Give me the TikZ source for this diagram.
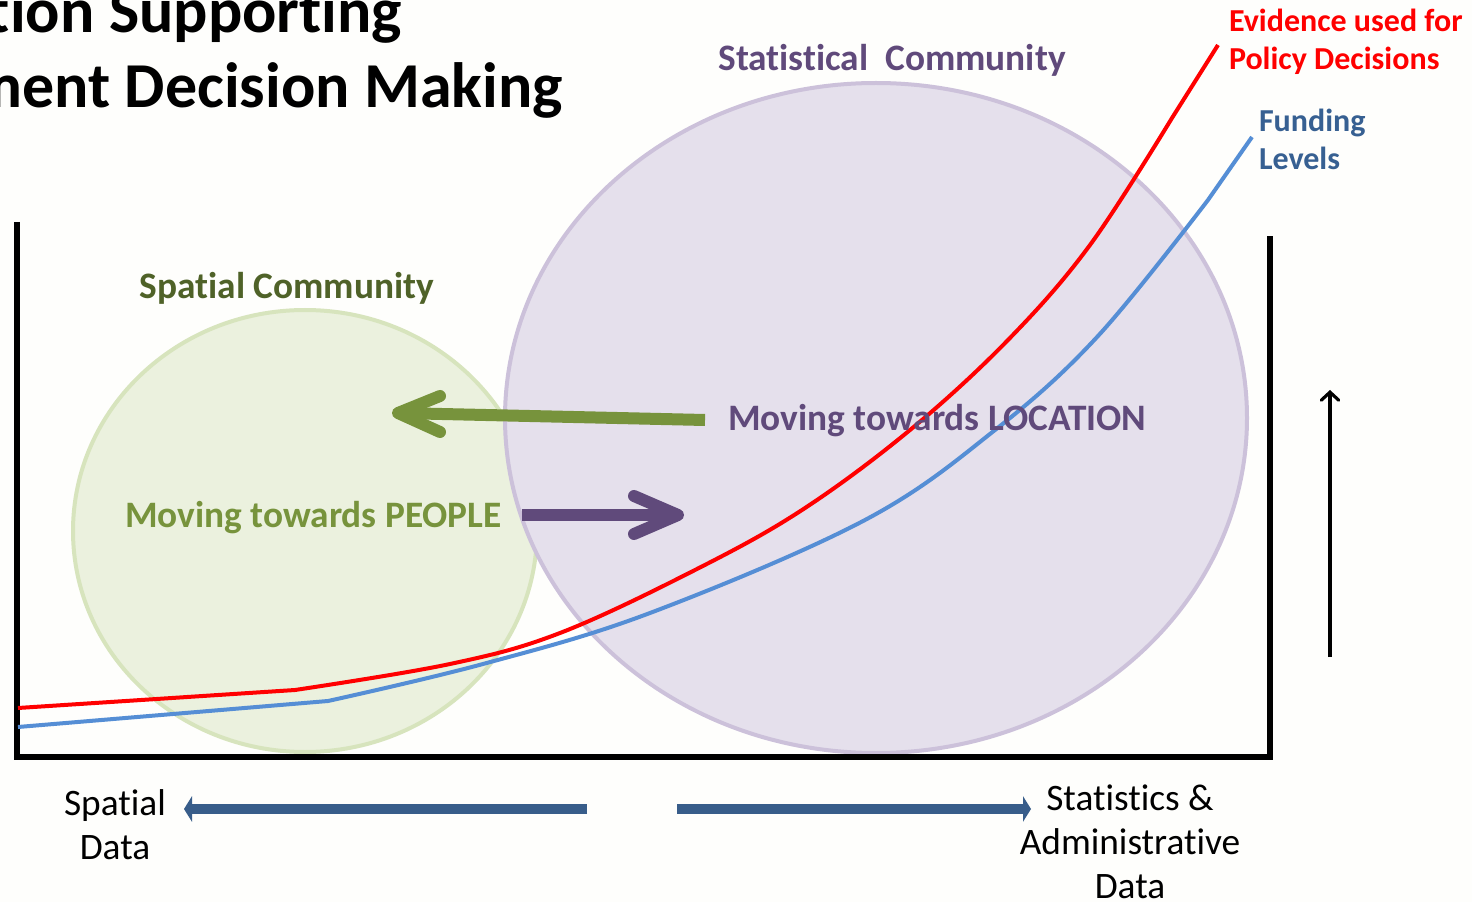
\documentclass[tikz,border=0pt]{standalone}
\usepackage{fontspec}
\setmainfont{Carlito}[Ligatures={NoCommon}, RawFeature={-liga;-clig;-dlig}]
\usetikzlibrary{arrows.meta,shapes.geometric}
\definecolor{bgc}{HTML}{FEFEFC}
\definecolor{grntext}{HTML}{4F6228}
\definecolor{grn}{HTML}{77933C}
\definecolor{grnfill}{HTML}{EBF1DE}
\definecolor{grnedge}{HTML}{D7E4BD}
\definecolor{pur}{HTML}{604A7B}
\definecolor{purfill}{HTML}{E5E0EC}
\definecolor{puredge}{HTML}{CCC1DA}
\definecolor{redl}{HTML}{FF0000}
\definecolor{bluel}{HTML}{558ED5}
\definecolor{bluet}{HTML}{376092}
\definecolor{bluea}{HTML}{385D8A}
\begin{document}
\begin{tikzpicture}[x=0.75pt,y=-0.75pt,
  every node/.style={inner sep=0pt, outer sep=0pt},
  titletext/.style={font=\fontsize{48}{53}\selectfont\bfseries, text=black},
  commtext/.style={font=\fontsize{28}{32}\selectfont\bfseries},
  movetext/.style={font=\fontsize{28}{32}\selectfont\bfseries},
  legtext/.style={font=\fontsize{24}{28.5}\selectfont\bfseries, align=left},
  axtext/.style={font=\fontsize{28}{33}\selectfont, align=center, text=black},
  axisline/.style={line width=4.5pt, black},
  bigarrow/.style={line width=9pt, line cap=round, line join=round},
  dataarrow/.style={line width=7.5pt, bluea, -{Triangle[length=6pt,width=19pt]}},
  curve/.style={line width=3pt, line join=round}
]
\useasboundingbox (0,0) rectangle (1472,902);
\fill[bgc] (0,0) rectangle (1472,902);

% title (clipped at left edge)
\node[titletext, anchor=base east] (title1) at (402,33) {tion Supporting};
\node[titletext, anchor=base east] (title2) at (563,108) {ment Decision Making};

% communities
\node[ellipse, draw=grnedge, fill=grnfill, line width=3pt,
      minimum width=348pt, minimum height=331.5pt] (spatial) at (305,531) {};
\node[ellipse, draw=puredge, fill=purfill, line width=3pt,
      minimum width=556.5pt, minimum height=502.5pt] (statistical) at (876,418) {};

\node[commtext, text=grntext] (spatiallab) at (287,288) {Spatial Community};
\node[commtext, text=pur] (statlab) at (892,60) {Statistical\ \ Community};

% axes
\coordinate (axTL) at (17,222);
\coordinate (axBL) at (17,757);
\coordinate (axBR) at (1270,757);
\coordinate (axTR) at (1270,236);
\draw[axisline, line join=miter] (axTL) -- (axBL) -- (axBR) -- (axTR);

% curves
\draw[curve, bluel] (18,727) -- (328,701) -- plot[smooth, tension=0.6] coordinates {(328,701) (483,664) (650,613) (865,520) (995,430) (1098,336) (1208,200)} -- (1252,137);
\draw[curve, redl] (18,708) -- (295,690) -- plot[smooth, tension=0.6] coordinates {(295,690) (450,664) (560,633) (695,570) (802,510) (910,430) (1008,340) (1090,245) (1172,118)} -- (1218,45);

% labels of curves
\node[legtext, text=redl, anchor=west] (evid) at (1229,42) {Evidence used for\\Policy Decisions};
\node[legtext, text=bluet, anchor=west] (fund) at (1259,139) {Funding\\Levels};

% moving arrows
\node[movetext, text=pur, anchor=west] (movloc) at (728,421) {Moving towards LOCATION};
\node[movetext, text=grn, anchor=west] (movpeo) at (125,518) {Moving towards PEOPLE};

\coordinate (gstart) at (705,420);
\coordinate (gtip) at (398,413);
\coordinate (garm1) at (440,396);
\coordinate (garm2) at (440,432);
\draw[bigarrow, grn, line cap=butt] (gstart) -- (gtip);
\draw[bigarrow, grn] (garm1) -- (gtip) -- (garm2);

\coordinate (pstart) at (522,515);
\coordinate (ptip) at (678,515);
\coordinate (parm1) at (634,496);
\coordinate (parm2) at (634,534);
\draw[bigarrow, pur, line cap=butt] (pstart) -- (ptip);
\draw[bigarrow, pur] (parm1) -- (ptip) -- (parm2);

% vertical arrow
\coordinate (vbot) at (1330,657);
\coordinate (vtop) at (1330,390);
\draw[line width=2.4pt, black, -{Straight Barb[length=6pt,width=13pt,line cap=round]}] (vbot) -- (vtop);

% bottom data arrows and labels
\node[axtext] (spdata) at (115,825) {Spatial\\Data};
\node[axtext] (stdata) at (1130,842) {Statistics \&\\Administrative\\Data};
\coordinate (la) at (587,809);
\coordinate (lb) at (184,809);
\coordinate (ra) at (677,809);
\coordinate (rb) at (1031,809);
\draw[dataarrow] (la) -- (lb);
\draw[dataarrow] (ra) -- (rb);
\end{tikzpicture}
\end{document}
